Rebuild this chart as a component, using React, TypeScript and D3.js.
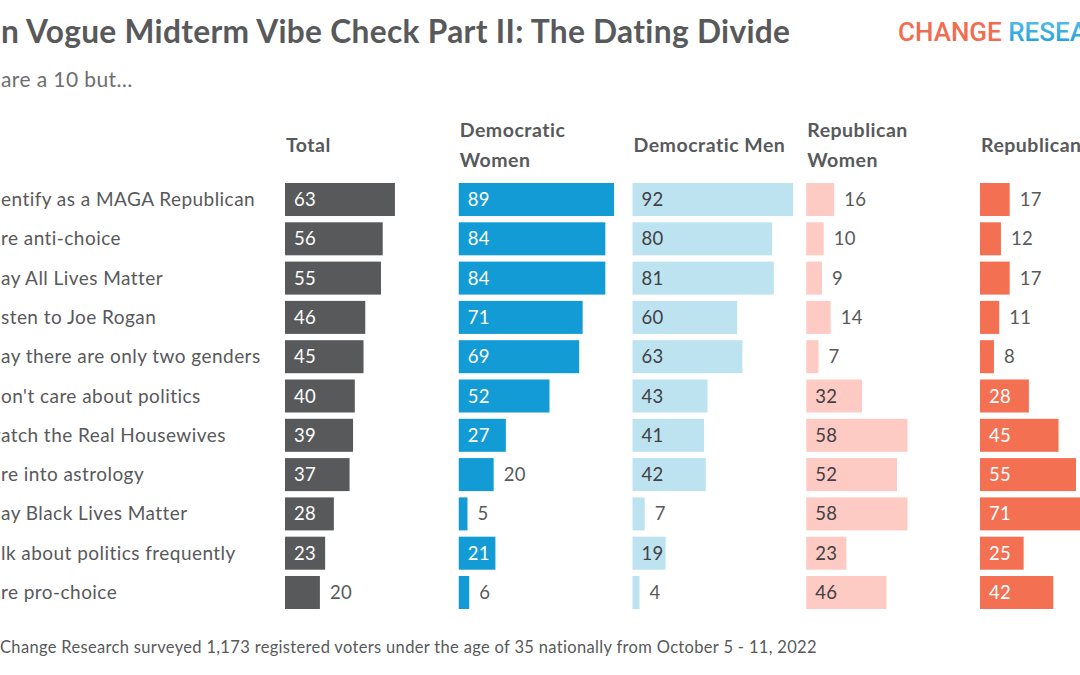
import React, { useEffect, useRef } from "react";
import * as d3 from "d3";

const rowLabels = [
  "identify as a MAGA Republican",
  "are anti-choice",
  "say All Lives Matter",
  "listen to Joe Rogan",
  "say there are only two genders",
  "don't care about politics",
  "watch the Real Housewives",
  "are into astrology",
  "say Black Lives Matter",
  "talk about politics frequently",
  "are pro-choice",
];
// hidden (cropped) prefix length of each row label
const rowPrefixLen = [2, 1, 1, 2, 1, 1, 1, 1, 1, 2, 1];

const groups = ["Total", "Democratic Women", "Democratic Men", "Republican Women", "Republican Men"];
const groupHeaderLines = [["Total"], ["Democratic", "Women"], ["Democratic Men"], ["Republican", "Women"], ["Republican Men"]];

const totalValues = [63, 56, 55, 46, 45, 40, 39, 37, 28, 23, 20];
const demWomenValues = [89, 84, 84, 71, 69, 52, 27, 20, 5, 21, 6];
const demMenValues = [92, 80, 81, 60, 63, 43, 41, 42, 7, 19, 4];
const repWomenValues = [16, 10, 9, 14, 7, 32, 58, 52, 58, 23, 46];
const repMenValues = [17, 12, 17, 11, 8, 28, 45, 55, 71, 25, 42];

const seriesValues = [totalValues, demWomenValues, demMenValues, repWomenValues, repMenValues];
const barColors = ["#58595b", "#139bd6", "#bde3f1", "#fdcbc3", "#f37053"];
const insideTextColors = ["#ffffff", "#ffffff", "#414042", "#414042", "#ffffff"];
const insideMin = [21, 21, 19, 21, 21];

const titleText = "Teen Vogue Midterm Vibe Check Part II: The Dating Divide";
const subtitleText = "They are a 10 but…";
const footerText = "Change Research surveyed 1,173 registered voters under the age of 35 nationally from October 5 - 11, 2022";

const W = 1080;
const H = 675;
const FONT = "Lato, 'Open Sans', sans-serif";

export default function App() {
  const ref = useRef<SVGSVGElement | null>(null);

  useEffect(() => {
    const svg = d3.select(ref.current);
    svg.selectAll("*").remove();

    const defs = svg.append("defs");
    const grad = defs.append("linearGradient").attr("id", "blueGrad").attr("x1", 0).attr("y1", 0).attr("x2", 0).attr("y2", 1);
    grad.append("stop").attr("offset", "0%").attr("stop-color", "#5cc0ea");
    grad.append("stop").attr("offset", "100%").attr("stop-color", "#1a9bd7");

    const colX = d3.scalePoint<string>().domain(groups).range([285, 980]);
    const x = d3.scaleLinear().domain([0, 100]).range([0, 174.5]);
    const y = d3.scaleBand<string>().domain(rowLabels).range([183, 609]).paddingInner(0.16).paddingOuter(0);

    // Title: visible part ("n Vogue ... Divide") spans x≈1 to x≈790
    const title = svg.append("text")
      .attr("y", 43)
      .attr("font-family", FONT).attr("font-weight", 700).attr("font-size", 31)
      .attr("letter-spacing", 0.3)
      .attr("fill", "#58595b")
      .text(titleText);
    const tNode = title.node() as SVGTextElement;
    let fs = 31;
    for (let k = 0; k < 3; k++) {
      const vis = tNode.getSubStringLength(3, titleText.length - 3);
      fs = fs * 789 / vis;
      title.attr("font-size", fs);
    }
    title.attr("x", 1 - tNode.getSubStringLength(0, 3));

    // Subtitle (left part cropped)
    const sub = svg.append("text")
      .attr("y", 87)
      .attr("font-family", FONT).attr("font-size", 21)
      .attr("letter-spacing", 0.4)
      .attr("fill", "#6d6e71")
      .text(subtitleText);
    const subNode = sub.node() as SVGTextElement;
    const subPre = subNode.getSubStringLength(0, 5);
    sub.attr("x", 1 - subPre);

    // Logo
    const logo = svg.append("text")
      .attr("x", 898).attr("y", 41)
      .attr("font-family", "Roboto, sans-serif").attr("font-weight", 500).attr("font-size", 26);
    logo.append("tspan").attr("fill", "#f26c4f").text("CHANGE ");
    logo.append("tspan").attr("fill", "url(#blueGrad)").text("RESEARCH");

    // Column headers
    groups.forEach((g, gi) => {
      const lines = groupHeaderLines[gi];
      const t = svg.append("text")
        .attr("font-family", FONT).attr("font-weight", 700).attr("font-size", 19.5)
        .attr("letter-spacing", 0.5)
        .attr("fill", "#58595b");
      lines.forEach((ln, li) => {
        const yy = lines.length === 1 ? 152 : 137 + li * 30;
        t.append("tspan").attr("x", (colX(g) as number) + 1).attr("y", yy).text(ln);
      });
    });

    // Row labels
    rowLabels.forEach((lab, i) => {
      const t = svg.append("text")
        .attr("y", (y(lab) as number) + y.bandwidth() / 2 + 6.5)
        .attr("font-family", FONT).attr("font-size", 19)
        .attr("letter-spacing", 0.45)
        .attr("fill", "#58595b")
        .text(lab);
      const node = t.node() as SVGTextElement;
      const pre = node.getSubStringLength(0, rowPrefixLen[i]);
      t.attr("x", 1 - pre);
    });

    // Bars
    groups.forEach((g, gi) => {
      const x0 = colX(g) as number;
      const vals = seriesValues[gi];
      const gg = svg.append("g");
      gg.selectAll("rect")
        .data(vals)
        .join("rect")
        .attr("x", x0)
        .attr("y", (_, i) => y(rowLabels[i]) as number)
        .attr("width", (d) => x(d))
        .attr("height", y.bandwidth())
        .attr("fill", barColors[gi]);
      gg.selectAll("text")
        .data(vals)
        .join("text")
        .attr("x", (d) => (d >= insideMin[gi] ? x0 + 9 : x0 + x(d) + 10))
        .attr("y", (_, i) => (y(rowLabels[i]) as number) + y.bandwidth() / 2 + 6.5)
        .attr("font-family", FONT).attr("font-size", 18.5)
        .attr("letter-spacing", 0.3)
        .attr("fill", (d) => (d >= insideMin[gi] ? insideTextColors[gi] : "#58595b"))
        .text((d) => String(d));
    });

    // Footer
    svg.append("text")
      .attr("x", 0).attr("y", 653)
      .attr("font-family", FONT).attr("font-size", 16.5)
      .attr("letter-spacing", 0.33)
      .attr("fill", "#58595b")
      .text(footerText);
  }, []);

  return (
    <div style={{ position: "fixed", left: 0, top: 0, width: W, height: H, background: "#fff" }}>
      <svg ref={ref} width={W} height={H} style={{ display: "block", overflow: "hidden" }} />
    </div>
  );
}
